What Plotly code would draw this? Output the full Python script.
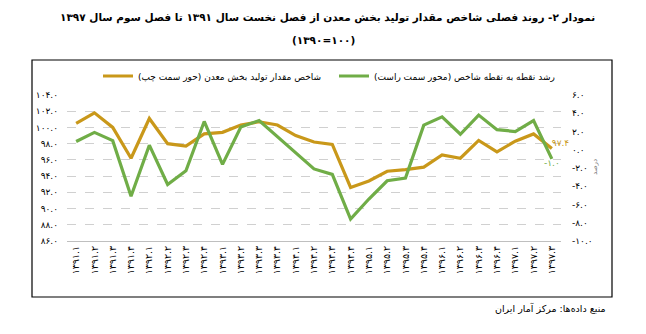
import plotly.graph_objects as go

FA = str.maketrans("0123456789", "۰۱۲۳۴۵۶۷۸۹")


def fa(s):
    return str(s).translate(FA)


# ---------------- data ----------------
quarters = [
    "1391.1", "1391.2", "1391.3", "1391.4",
    "1392.1", "1392.2", "1392.3", "1392.4",
    "1393.1", "1393.2", "1393.3", "1393.4",
    "1394.1", "1394.2", "1394.3", "1394.4",
    "1395.1", "1395.2", "1395.3", "1395.4",
    "1396.1", "1396.2", "1396.3", "1396.4",
    "1397.1", "1397.2", "1397.3",
]
mining_index = [100.5, 101.8, 100.0, 96.2, 101.1, 98.0, 97.7, 99.2, 99.4,
                100.3, 100.7, 100.3, 99.0, 98.2, 97.9, 92.6, 93.4, 94.6,
                94.8, 95.1, 96.6, 96.2, 98.4, 97.0, 98.3, 99.2, 97.4]
growth_pct = [0.9, 1.9, 1.0, -5.1, 0.5, -3.8, -2.3, 3.1, -1.6, 2.5, 3.2,
              1.4, -0.4, -2.1, -2.7, -7.6, -5.4, -3.4, -3.1, 2.7, 3.6, 1.7,
              3.8, 2.2, 2.0, 3.2, -1.0]
left_ticks = [86, 88, 90, 92, 94, 96, 98, 100, 102, 104]
right_ticks = [-10, -8, -6, -4, -2, 0, 2, 4, 6]

name_index = "\u200fشاخص مقدار تولید بخش معدن (حور سمت چپ)\u200f"
name_growth = "\u200fرشد نقطه به نقطه شاخص (محور سمت راست)\u200f"
title_l1 = "نمودار ۲- روند فصلی شاخص مقدار تولید بخش معدن از فصل نخست سال ۱۳۹۱ تا فصل سوم سال ۱۳۹۷"
title_l2 = "(۱۳۹۰=۱۰۰)"
source_txt = "\u200fمنبع داده‌ها: مرکز آمار ایران\u200f"
unit_txt = "درصد"

ORANGE = "#C9981A"
GREEN = "#70AD47"
FONT = "DejaVu Sans"

x_labels = [fa(q) for q in quarters]


def last_label(vals):
    return [""] * (len(vals) - 1) + [fa(f"{vals[-1]:.1f}")]


fig = go.Figure()
fig.add_trace(go.Scatter(
    x=x_labels, y=mining_index, name=name_index, yaxis="y", legend="legend",
    mode="lines+text", line=dict(color=ORANGE, width=3.2),
    text=last_label(mining_index), textposition="top right",
    textfont=dict(color=ORANGE, size=9, family=FONT), cliponaxis=False,
))
fig.add_trace(go.Scatter(
    x=x_labels, y=growth_pct, name=name_growth, yaxis="y2", legend="legend2",
    mode="lines+text", line=dict(color=GREEN, width=3.2),
    text=last_label(growth_pct), textposition="bottom center",
    textfont=dict(color=GREEN, size=9, family=FONT), cliponaxis=False,
))

L, R, T, B = 67, 85, 95, 93
W, H = 646, 334
pw = W - L - R
ph = H - T - B


def px(xp):
    return (xp - L) / pw


def py(yp):
    return (H - B - yp) / ph


legend_common = dict(
    orientation="h", yanchor="middle", xanchor="left",
    font=dict(size=9, family=FONT, color="#000000"),
    bgcolor="rgba(0,0,0,0)", itemwidth=30,
)

fig.update_layout(
    width=W, height=H,
    margin=dict(l=L, r=R, t=T, b=B, pad=0),
    paper_bgcolor="white", plot_bgcolor="white",
    font=dict(family=FONT, size=10, color="#000000"),
    showlegend=True,
    legend=dict(x=px(98), y=py(76), **legend_common),
    legend2=dict(x=px(334), y=py(76), **legend_common),
    xaxis=dict(
        type="category", range=[-0.5, len(quarters) - 0.5],
        tickangle=-90, tickfont=dict(size=9.5, family=FONT, color="#000000"),
        showgrid=False, showline=True, linecolor="#BFBFBF", linewidth=1,
        ticks="", zeroline=False,
    ),
    yaxis=dict(
        range=[86, 104], tickvals=left_ticks,
        ticktext=[fa(f"{v:.1f}") for v in left_ticks],
        tickfont=dict(size=9, family=FONT, color="#000000"),
        showgrid=True, gridcolor="#D0D0D0", griddash="dash", gridwidth=1,
        zeroline=False, showline=False, ticks="", ticklabelstandoff=8,
    ),
    yaxis2=dict(
        range=[-10, 6], tickvals=right_ticks,
        ticktext=[fa(f"{v:.1f}") for v in right_ticks],
        tickfont=dict(size=9, family=FONT, color="#000000"),
        overlaying="y", side="right", showgrid=False, zeroline=False,
        showline=False, ticks="", ticklabelstandoff=10,
    ),
    shapes=[dict(
        type="rect", xref="paper", yref="paper",
        x0=px(32), x1=px(612), y0=py(297), y1=py(60),
        line=dict(color="#000000", width=1.2), fillcolor="rgba(0,0,0,0)",
        layer="below",
    )],
    annotations=[
        dict(text="<b>" + title_l1 + "</b>", xref="paper", yref="paper",
             x=px(327), y=py(17), xanchor="center", yanchor="middle",
             showarrow=False, font=dict(size=10.5, family=FONT, color="#000000")),
        dict(text="<b>" + title_l2 + "</b>", xref="paper", yref="paper",
             x=px(323), y=py(40), xanchor="center", yanchor="middle",
             showarrow=False, font=dict(size=10.5, family=FONT, color="#000000")),
        dict(text=source_txt, xref="paper", yref="paper",
             x=px(608), y=py(308), xanchor="right", yanchor="middle",
             showarrow=False, font=dict(size=9.5, family=FONT, color="#000000")),
        dict(text=unit_txt, xref="paper", yref="paper",
             x=px(595), y=py(167), xanchor="center", yanchor="middle",
             textangle=-90, showarrow=False,
             font=dict(size=7, family=FONT, color="#808080")),
    ],
)

fig.write_html("out.html")
